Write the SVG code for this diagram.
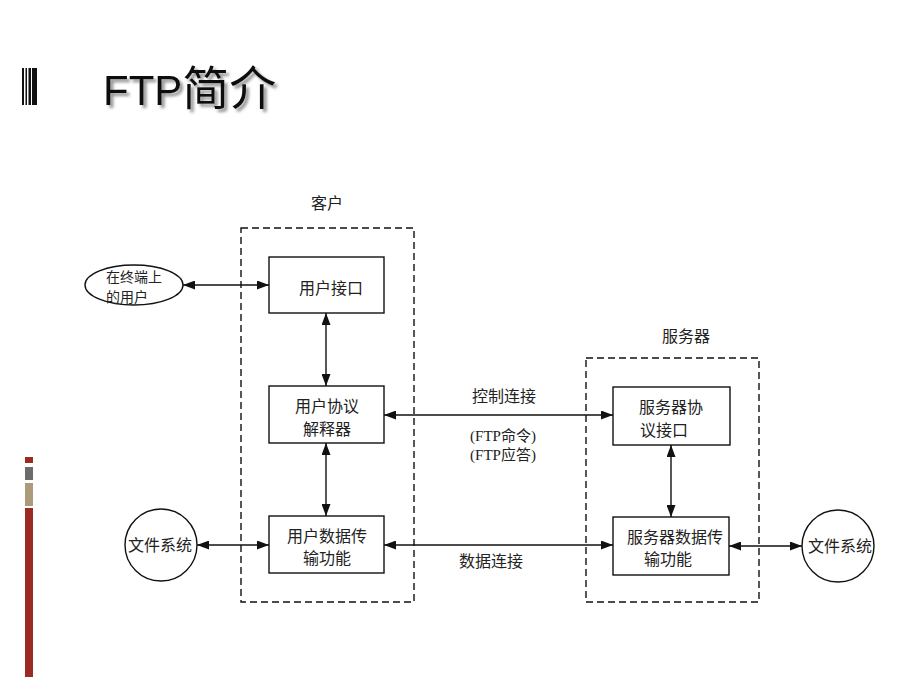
<svg xmlns="http://www.w3.org/2000/svg" width="920" height="690" viewBox="0 0 920 690">
<defs>
<style>
.box{fill:#fff;stroke:#111;stroke-width:1.4}
.dash{fill:none;stroke:#111;stroke-width:1.4;stroke-dasharray:7 4}
.ln{stroke:#111;stroke-width:1.4;fill:none;marker-start:url(#ah);marker-end:url(#ah)}
.t{font-family:"Noto Sans CJK SC","Liberation Serif",serif;font-size:16px;fill:#222;text-anchor:middle}
.s{font-size:14px}
.lbl{font-family:"Liberation Serif","Noto Sans CJK SC",serif;font-size:15px;fill:#222;text-anchor:middle}
</style>
<marker id="ah" viewBox="0 0 12 9" refX="12" refY="4.5" markerWidth="12" markerHeight="9" markerUnits="userSpaceOnUse" orient="auto-start-reverse">
<path d="M0,0 L12,4.5 L0,9 Z" fill="#111"/>
</marker>
<filter id="sh" x="-10%" y="-20%" width="130%" height="150%">
<feDropShadow dx="3" dy="3" stdDeviation="1.5" flood-color="#777" flood-opacity="0.8"/>
</filter>
</defs>
<rect width="920" height="690" fill="#fff"/>
<g id="title-icon">
<rect x="22" y="68" width="2" height="37" fill="#111"/>
<rect x="25.5" y="68" width="1.5" height="37" fill="#111"/>
<rect x="28.5" y="68" width="2.5" height="37" fill="#111"/>
<rect x="32" y="68" width="5" height="37" fill="#111"/>
</g>
<text id="title" x="103" y="105" font-family="Liberation Sans,'Noto Sans CJK SC',sans-serif" fill="#111" filter="url(#sh)"><tspan font-size="42">FTP</tspan><tspan font-size="47" font-family="'Noto Sans CJK SC',sans-serif">简介</tspan></text>
<g id="side-bar">
<rect x="25" y="457" width="8" height="6" fill="#9a2a22"/>
<rect x="25" y="467" width="8" height="13" fill="#6b6b6b"/>
<rect x="25" y="483" width="8" height="23" fill="#ad9a78"/>
<rect x="25" y="508" width="8" height="169" fill="#9a2a22"/>
</g>
<g id="client">
<rect class="dash" x="241" y="228" width="173" height="374"/>
<text class="t" x="327" y="209">客户</text>
</g>
<g id="server">
<rect class="dash" x="586" y="358" width="173" height="244"/>
<text class="t" x="686" y="342">服务器</text>
</g>
<g id="connectors">
<line class="ln" x1="183" y1="285" x2="269" y2="285"/>
<line class="ln" x1="326" y1="313" x2="326" y2="386"/>
<line class="ln" x1="326" y1="443" x2="326" y2="516"/>
<line class="ln" x1="384" y1="415" x2="613" y2="415"/>
<line class="ln" x1="384" y1="545" x2="613" y2="545"/>
<line class="ln" x1="671" y1="445" x2="671" y2="517"/>
<line class="ln" x1="197" y1="545" x2="269" y2="545"/>
<line class="ln" x1="729" y1="546" x2="802" y2="546"/>
<text class="t" x="504" y="402">控制连接</text>
<text class="lbl" x="503" y="441">(FTP命令)</text>
<text class="lbl" x="503" y="460">(FTP应答)</text>
<text class="t" x="491" y="567">数据连接</text>
</g>
<g id="terminal-user">
<ellipse class="box" cx="134" cy="285" rx="49" ry="20"/>
<text class="t s" x="134" y="282">在终端上</text>
<text class="t s" x="127" y="302">的用户</text>
</g>
<g id="user-interface">
<rect class="box" x="269" y="257" width="115" height="56"/>
<text class="t" x="331" y="294">用户接口</text>
</g>
<g id="user-pi">
<rect class="box" x="269" y="386" width="115" height="57"/>
<text class="t" x="327" y="412">用户协议</text>
<text class="t" x="327" y="435">解释器</text>
</g>
<g id="user-dtp">
<rect class="box" x="269" y="516" width="115" height="57"/>
<text class="t" x="327" y="542">用户数据传</text>
<text class="t" x="327" y="564">输功能</text>
</g>
<g id="server-pi">
<rect class="box" x="613" y="387" width="117" height="58"/>
<text class="t" x="671" y="413">服务器协</text>
<text class="t" x="664" y="436">议接口</text>
</g>
<g id="server-dtp">
<rect class="box" x="613" y="517" width="116" height="58"/>
<text class="t" x="675" y="543">服务器数据传</text>
<text class="t" x="668" y="565">输功能</text>
</g>
<g id="fs-left">
<circle class="box" cx="161" cy="545" r="36"/>
<text class="t" x="160" y="551">文件系统</text>
</g>
<g id="fs-right">
<circle class="box" cx="838" cy="546" r="36"/>
<text class="t" x="840" y="552">文件系统</text>
</g>
</svg>
